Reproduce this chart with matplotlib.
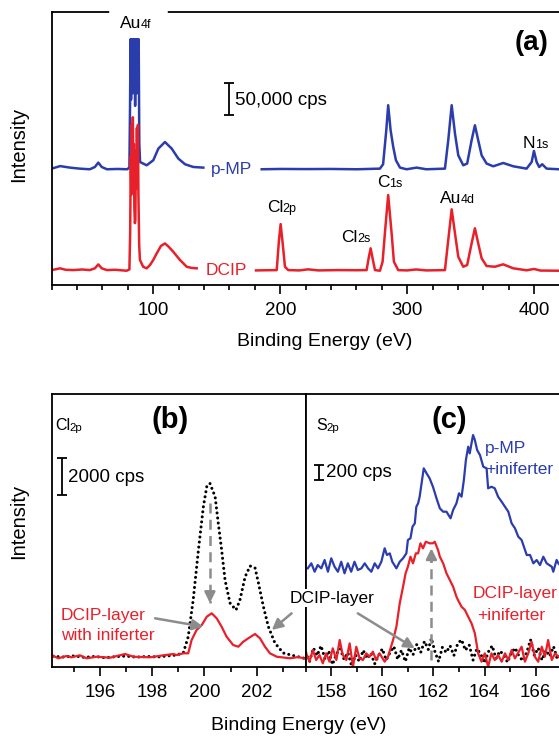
import matplotlib
matplotlib.use("Agg")
import matplotlib.pyplot as plt
from matplotlib.ticker import MultipleLocator

plt.rcParams["font.family"] = ["Liberation Sans", "DejaVu Sans"]

BLUE = "#2b3cad"
RED = "#e8202a"
GRAY = "#8c8c8c"

# ---------------- panel (a): survey spectra (cps, own baseline) ----------------
# Au 4f region is saturated/dense in the original, read as a tight zigzag
dcip_ev_lo = [20, 26.6, 31, 37, 44, 50, 54, 56.7, 59.4, 63.5, 70, 79, 81.2, 81.8, 82.3,
              82.7, 83.1, 83.5, 83.9, 84.3, 84.7, 85.1, 85.5, 85.9, 86.3, 86.7, 87.1,
              87.5, 87.9, 88.3, 88.9, 89.5, 92.0, 94.8, 97.4, 100.0, 102.7, 106.0, 109.2,
              112.0, 115.7, 121.0, 126.3, 130.0, 134.2]
dcip_lo = [1000, 3800, 1500, 1000, 2000, 1000, 3800, 10000, 3800, 1000, 1500, 0, 2000,
           60000, 180000, 120000, 230000, 150000, 242000, 150000, 200000, 100000, 75000,
           80000, 190000, 130000, 225000, 140000, 230000, 120000, 40000, 17000, 6300,
           3800, 9000, 17000, 27400, 39000, 43000, 38000, 30000, 17000, 6300, 4500, 3800]

dcip_ev_hi = [180.9, 190, 197.2, 199.0, 200.3, 201.9, 203.7, 206.3, 215, 222, 230, 245,
              260, 268.0, 269.8, 271.2, 272.7, 274.6, 278.5, 280.6, 282.4, 285.0, 287.7,
              289.5, 292.9, 300, 307, 315, 329.7, 332.3, 335.0, 337.6, 340.2, 344.1,
              347.2, 350.7, 353.3, 355.9, 358.6, 362.5, 369.0, 375.6, 383.5, 394.0,
              399.8, 404.8, 420, 440]
dcip_hi = [500, 800, 1000, 48400, 73600, 43200, 6300, 1000, 500, 2200, 500, 1000, 800,
           1000, 22000, 35300, 19600, 1000, 0, 14200, 59000, 119400, 59000, 14200, 1000,
           500, 2000, 500, 1000, 48400, 96800, 59000, 22000, 6300, 9000, 43200, 66900,
           43200, 19600, 7400, 6300, 10100, 3800, 700, 2800, 300, 0, 0]

pmp_ev_lo = [20, 26.6, 34.4, 42, 50, 54, 56.7, 59.4, 63.5, 72, 79.5, 81.2, 81.7, 82.1,
             82.5, 82.9, 83.3, 83.7, 84.1, 84.5, 84.9, 85.3, 85.7, 86.1, 86.5, 86.9,
             87.3, 87.7, 88.1, 88.5, 89.0, 89.6, 92.0, 94.8, 100.0, 104.0, 109.2, 114.5,
             119.7, 125.0, 131.5, 139.4]
pmp_lo = [1000, 5000, 2600, 1000, 0, 3600, 10500, 3600, 0, 500, 0, 3000, 100000, 205000,
          110000, 205000, 120000, 205000, 130000, 205000, 120000, 205000, 100000, 205000,
          120000, 205000, 130000, 205000, 120000, 205000, 40000, 11500, 9000, 6300,
          14200, 32600, 43000, 32600, 16900, 7900, 3600, 2600]

pmp_ev_hi = [185.4, 200, 220, 240, 260, 278.5, 281.0, 283.5, 285.0, 286.9, 289.0, 291.1,
             294.3, 299.5, 307.4, 315, 329.7, 332.3, 335.0, 337.6, 340.2, 344.1, 347.2,
             350.7, 353.3, 355.9, 358.6, 362.5, 367.7, 375.6, 383.5, 394.0, 398.0,
             399.8, 401.9, 403.9, 406.3, 409.8, 419.4, 440]
pmp_hi = [0, 500, 300, 500, 0, 1000, 8000, 61500, 101000, 61500, 35000, 14200, 2600, 0,
          2600, 0, 1000, 45700, 101000, 56300, 22000, 6300, 9000, 45700, 69400, 45700,
          22000, 9000, 4700, 9900, 4700, 1000, 11500, 28900, 11500, 3600, 7900, 1000, 0, 0]
pmp_offset = 160000

# ---------------- panel (b): Cl 2p ----------------
cl_ev_layer = [194.2, 194.6, 195.0, 195.4, 195.8, 196.2, 196.6, 197.0, 197.4, 197.8,
               198.2, 198.6, 198.9, 199.19, 199.38, 199.57, 199.77, 199.96, 200.09,
               200.21, 200.41, 200.53, 200.66, 200.79, 200.98, 201.21, 201.36, 201.56,
               201.75, 201.94, 202.07, 202.26, 202.45, 202.7, 203.02, 203.54, 203.92]
cl_layer = [40, 0, 60, -20, 30, -40, 20, 50, -10, 30, 0, 60, 100, 216, 1097, 3080, 5780,
            8125, 9205, 9390, 8665, 7243, 5783, 4162, 2919, 2540, 3080, 4340, 4919, 4810,
            4000, 2719, 1638, 757, 216, 30, -100]

cl_ev_inif = [194.15, 194.4, 194.72, 194.91, 195.23, 195.49, 195.87, 196.38, 196.96,
              197.28, 197.92, 198.43, 198.81, 198.94, 199.19, 199.38, 199.51, 199.7,
              199.9, 200.09, 200.28, 200.47, 200.66, 200.85, 201.1, 201.3, 201.49,
              201.68, 201.94, 202.13, 202.32, 202.51, 202.77, 203.28, 203.6, 203.9]
cl_inif = [108, -70, 54, -16, 92, -70, 16, -38, 162, 16, -16, 92, 162, 108, 200, 200, 919,
           1459, 1730, 2178, 2362, 2092, 1638, 1097, 649, 557, 827, 1011, 1243, 1011, 557,
           200, 16, -70, 0, -108]

# ---------------- panel (c): S 2p ----------------
s_ev_pmp = [157.08, 157.22, 157.35, 157.47, 157.61, 157.74, 157.87, 158.0, 158.13,
            158.26, 158.39, 158.52, 158.65, 158.78, 158.91, 159.04, 159.18, 159.31,
            159.44, 159.57, 159.7, 159.83, 159.96, 160.09, 160.18, 160.29, 160.39,
            160.55, 160.68, 160.81, 160.94, 161.0, 161.1, 161.18, 161.27, 161.33, 161.4,
            161.46, 161.62, 161.73, 161.85, 161.98, 162.12, 162.25, 162.38, 162.51,
            162.67, 162.77, 162.9, 163.0, 163.1, 163.19, 163.27, 163.36, 163.42, 163.49,
            163.55, 163.62, 163.71, 163.82, 163.95, 164.08, 164.14, 164.27, 164.4,
            164.53, 164.67, 164.8, 164.93, 165.06, 165.19, 165.32, 165.45, 165.65,
            165.78, 165.91, 166.04, 166.17, 166.3, 166.43, 166.63, 166.69, 166.82,
            166.89, 167.0, 167.2]
s_pmp = [1182, 1249, 1137, 1226, 1182, 1293, 1137, 1316, 1204, 1137, 1270, 1116, 1249,
         1137, 1270, 1160, 1182, 1249, 1182, 1137, 1249, 1182, 1270, 1449, 1360, 1382,
         1270, 1182, 1270, 1316, 1382, 1560, 1582, 1737, 1782, 2003, 2049, 2137, 2515,
         2449, 2382, 2270, 2115, 1982, 1937, 1937, 1849, 1960, 2049, 2182, 2137, 2359,
         2626, 2803, 2715, 2849, 2959, 2893, 2759, 2693, 2537, 2515, 2249, 2270, 2249,
         2137, 2070, 2003, 1937, 1782, 1716, 1604, 1560, 1360, 1360, 1249, 1293, 1226,
         1337, 1249, 1204, 1137, 1293, 1249, 1204, 1250]

s_ev_inif = [157.02, 157.15, 157.28, 157.41, 157.54, 157.67, 157.8, 157.93, 158.06, 158.2,
             158.33, 158.45, 158.59, 158.72, 158.85, 158.98, 159.11, 159.24, 159.37,
             159.5, 159.63, 159.76, 159.89, 160.09, 160.22, 160.42, 160.55, 160.68,
             160.81, 160.91, 161.0, 161.1, 161.2, 161.31, 161.4, 161.49, 161.59, 161.7,
             161.85, 161.98, 162.05, 162.18, 162.25, 162.38, 162.51, 162.64, 162.77,
             162.9, 162.96, 163.1, 163.23, 163.36, 163.49, 163.62, 163.75, 163.88,
             164.01, 164.14, 164.27, 164.4, 164.53, 164.67, 164.8, 164.93, 165.06,
             165.19, 165.45, 165.58, 165.71, 165.84, 165.97, 166.1, 166.24, 166.36,
             166.49, 166.63, 166.76, 166.89, 167.1]
s_inif = [49, -62, 93, -40, 27, -84, 49, -62, 116, -40, 227, 27, -40, 182, -129, 137, -18,
          -40, 49, 4, 71, -40, 49, -62, 4, 227, 404, 716, 937, 1116, 1204, 1337, 1249,
          1382, 1382, 1516, 1449, 1537, 1516, 1516, 1537, 1426, 1337, 1249, 1116, 1026,
          937, 804, 760, 670, 627, 537, 449, 316, 49, -62, 49, -129, 49, -40, 27, -62,
          49, -40, 93, -18, 137, -62, 49, 204, 4, -62, 137, 4, 227, -40, 49, 4, 60]

s_ev_layer = [157.0, 157.15, 157.3, 157.45, 157.6, 157.75, 157.9, 158.05, 158.2, 158.35,
              158.5, 158.65, 158.8, 158.95, 159.1, 159.25, 159.4, 159.55, 159.7, 159.85,
              160.0, 160.15, 160.3, 160.45, 160.6, 160.75, 160.9, 161.05, 161.2, 161.35,
              161.5, 161.65, 161.8, 161.92, 162.05, 162.2, 162.35, 162.5, 162.65, 162.8,
              162.95, 163.1, 163.25, 163.4, 163.55, 163.7, 163.85, 164.0, 164.15, 164.3,
              164.45, 164.6, 164.75, 164.9, 165.05, 165.2, 165.35, 165.5, 165.65, 165.8,
              165.95, 166.1, 166.25, 166.4, 166.55, 166.7, 166.85, 167.0]
s_layer = [60, -60, 120, 20, 150, -20, 80, -100, 40, 110, -30, 60, -120, 30, -60, 90, -20,
           50, -90, 20, 110, -40, 60, 140, -30, 90, -60, 120, 30, 170, 60, 210, 100, 250,
           80, -60, 130, 60, 150, 20, 180, 230, 90, 160, -40, 110, 40, -80, 70, 150, -20,
           80, 30, -70, 60, 120, 10, -50, 60, 230, 20, 120, -40, 90, 10, 140, -30, 60]


def sublabel(ax, x, y, main, sub, size=12.5, color="k", **kw):
    t = ax.text(x, y, main, fontsize=size, color=color, ha="left", va="baseline", **kw)
    ax.annotate(sub, xy=(1, 0), xycoords=t, xytext=(-0.3, 0), textcoords="offset points",
                fontsize=size * 0.72, color=color, ha="left", va="bottom", **kw)
    return t


def style(ax, major, minor):
    ax.set_yticks([])
    ax.xaxis.set_major_locator(MultipleLocator(major))
    ax.xaxis.set_minor_locator(MultipleLocator(minor))
    ax.tick_params(axis="x", which="major", direction="out", length=6.5, width=1.2,
                   labelsize=13.5, pad=5.5)
    ax.tick_params(axis="x", which="minor", direction="out", length=3.6, width=1.2)
    for s in ax.spines.values():
        s.set_linewidth(1.3)


def arrow(ax, start, tip, dashed=False):
    if dashed:
        ax.plot([start[0], tip[0]], [start[1], tip[1]], color=GRAY, lw=1.8,
                ls=(0, (4, 2.5)), zorder=4)
        d = (tip[1] - start[1]) * 0.12
        start = (tip[0], tip[1] - d)
    ax.annotate("", xy=tip, xytext=start, zorder=4,
                arrowprops=dict(arrowstyle="-|>", color=GRAY, lw=1.8,
                                mutation_scale=16, shrinkA=0, shrinkB=0))


W, H = 559, 737
fig = plt.figure(figsize=(W / 100, H / 100), dpi=100)

# ---------------- (a) ----------------
ax = fig.add_axes([51.7 / W, 1 - 285 / H, (585 - 51.7) / W, 273 / H])
style(ax, 100, 20)
ax.set_xlim(20, 440)
ax.set_ylim(-22500, 408000)
ax.plot(pmp_ev_lo, [v + pmp_offset for v in pmp_lo], color=BLUE, lw=1.8)
ax.plot(pmp_ev_hi, [v + pmp_offset for v in pmp_hi], color=BLUE, lw=1.8)
ax.plot(dcip_ev_lo, dcip_lo, color=RED, lw=1.8)
ax.plot(dcip_ev_hi, dcip_hi, color=RED, lw=1.8)
ax.text(161.7, pmp_offset, "p-MP", color=BLUE, fontsize=12.5, ha="center", va="center")
ax.text(157.8, 0, "DCIP", color=RED, fontsize=12.5, ha="center", va="center")
ax.errorbar([159.9], [270500], yerr=[25000], color="k", lw=1.3, capsize=3.5, capthick=1.3)
ax.text(164.3, 268000, "50,000 cps", fontsize=13.5, ha="left", va="center")
ax.plot([67.4, 109.2], [1, 1], transform=ax.get_xaxis_transform(), color="white", lw=4,
        clip_on=False, zorder=3)
sublabel(ax, 73.8, 382700, "Au", "4f", clip_on=False)
sublabel(ax, 189.3, 93000, "Cl", "2p")
sublabel(ax, 248.3, 45700, "Cl", "2s")
sublabel(ax, 275.9, 132500, "C", "1s")
sublabel(ax, 325.7, 106300, "Au", "4d")
sublabel(ax, 391.1, 193000, "N", "1s")
ax.text(397.7, 359000, "(a)", fontsize=20, fontweight="bold", ha="center", va="center")
ax.set_ylabel("Intensity", fontsize=14.5)
ax.yaxis.set_label_coords(-0.0439, 0.516)
fig.text(325 / W, 1 - 341 / H, "Binding Energy (eV)", fontsize=14, ha="center", va="center")

# ---------------- (b) ----------------
bx = fig.add_axes([51.7 / W, 1 - 667 / H, 254 / W, 273 / H])
style(bx, 2, 1)
bx.set_xlim(194.15, 203.88)
bx.set_ylim(-540, 14215)
bx.plot(cl_ev_layer, cl_layer, color="k", lw=2.2, ls=(0, (0.01, 1.65)),
        dash_capstyle="round")
bx.plot(cl_ev_inif, cl_inif, color=RED, lw=1.6)
bx.errorbar([194.53], [9756], yerr=[1000], color="k", lw=1.3, capsize=3.5, capthick=1.3)
bx.text(194.77, 9675, "2000 cps", fontsize=13.5, ha="left", va="center")
sublabel(bx, 194.28, 12270, "Cl", "2p", size=11.5)
bx.text(198.68, 12810, "(b)", fontsize=21, fontweight="bold", ha="center", va="center")
bx.text(194.5, 2270, "DCIP-layer", color=RED, fontsize=12.5, ha="left", va="center")
bx.text(194.5, 1189, "with iniferter", color=RED, fontsize=12.5, ha="left", va="center")
arrow(bx, (198.11, 2092), (199.96, 1638))
arrow(bx, (203.34, 2362), (202.58, 1459))
arrow(bx, (200.21, 8325), (200.21, 2919), dashed=True)
bx.set_ylabel("Intensity", fontsize=14.5)
bx.yaxis.set_label_coords(-0.092, 0.535)

# ---------------- (c) ----------------
cx = fig.add_axes([305.7 / W, 1 - 667 / H, (584.2 - 305.7) / W, 273 / H])
style(cx, 2, 1)
cx.set_xlim(157, 167.9)
cx.set_ylim(-133, 3506)
cx.plot(s_ev_layer, s_layer, color="k", lw=2.2, ls=(0, (0.01, 1.65)),
        dash_capstyle="round")
cx.plot(s_ev_inif, s_inif, color=RED, lw=1.6)
cx.plot(s_ev_pmp, s_pmp, color=BLUE, lw=1.6)
cx.errorbar([157.54], [2459], yerr=[100], color="k", lw=1.3, capsize=3.5, capthick=1.3)
cx.text(157.78, 2453, "200 cps", fontsize=13.5, ha="left", va="center")
sublabel(cx, 157.41, 3026, "S", "2p", size=11.5)
cx.text(162.64, 3159, "(c)", fontsize=21, fontweight="bold", ha="center", va="center")
cx.text(164.01, 2786, "p-MP", color=BLUE, fontsize=12.5, ha="left", va="center")
cx.text(164.01, 2506, "+iniferter", color=BLUE, fontsize=12.5, ha="left", va="center")
cx.text(165.19, 853, "DCIP-layer", color=RED, fontsize=12.5, ha="center", va="center")
cx.text(165.03, 560, "+iniferter", color=RED, fontsize=12.5, ha="center", va="center")
arrow(cx, (159.04, 582), (161.27, 116))
arrow(cx, (161.92, -40), (161.92, 1449), dashed=True)

fig.text(332 / W, 1 - 598 / H, "DCIP-layer", fontsize=12.5, ha="center", va="center",
         bbox=dict(facecolor="white", edgecolor="none", pad=1))
fig.text(299 / W, 1 - 726 / H, "Binding Energy (eV)", fontsize=14, ha="center", va="center")

fig.savefig("out.png", dpi=100)
